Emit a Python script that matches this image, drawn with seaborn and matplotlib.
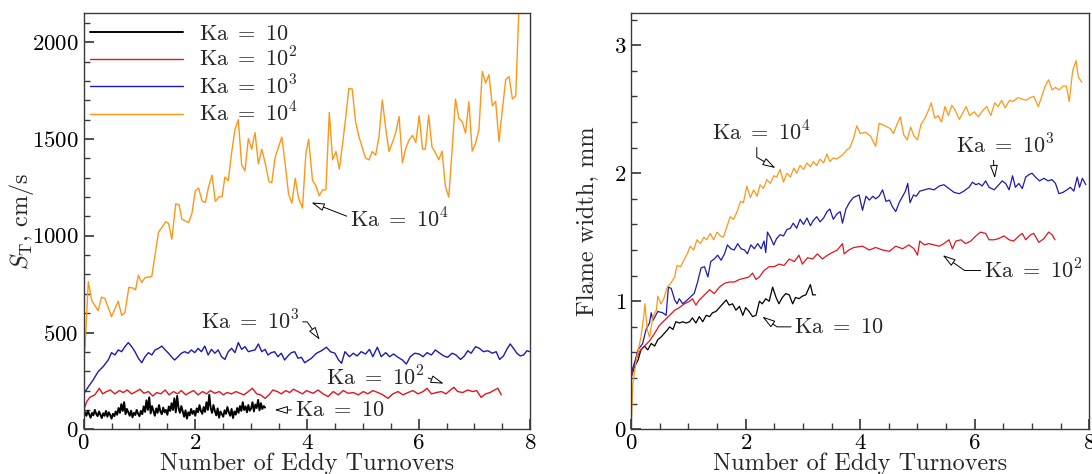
import matplotlib
matplotlib.use("Agg")
import matplotlib.pyplot as plt
from matplotlib.ticker import MultipleLocator
import numpy as np
import pandas as pd
import seaborn as sns

# ---------------- data ----------------
ka_labels = [r"$\mathrm{Ka}\ =\ 10$", r"$\mathrm{Ka}\ =\ 10^{2}$",
             r"$\mathrm{Ka}\ =\ 10^{3}$", r"$\mathrm{Ka}\ =\ 10^{4}$"]
ka_colors = ["#000000", "#e0151d", "#1b1bb0", "#ff9618"]

# Turbulent flame speed S_T (cm/s) versus eddy turnovers
st_ka1_t0, st_ka1_t1 = 0.0, 3.25
st_ka1 = [62, 88, 70, 95, 78, 60, 85, 72, 100, 80, 68, 92, 75, 58, 83, 70, 95, 65, 88, 74,
          55, 80, 68, 92, 75, 110, 85, 130, 95, 140, 78, 105, 88, 70, 96, 62, 85, 74, 100, 80,
          68, 95, 78, 118, 90, 150, 100, 165, 82, 120, 95, 70, 108, 85, 125, 92, 78, 112, 88, 100,
          75, 118, 95, 135, 100, 160, 88, 172, 110, 85, 120, 92, 65, 98, 55, 88, 72, 105, 80, 95,
          70, 108, 88, 125, 95, 80, 115, 90, 140, 100, 178, 110, 85, 125, 95, 72, 108, 60, 92, 78,
          65, 98, 80, 115, 88, 70, 105, 58, 92, 76, 110, 85, 120, 95, 140, 100, 118, 88, 125, 96,
          108, 140, 92, 128, 110, 152, 98, 135, 105, 120, 112]

st_ka2_t = [0.007, 0.055, 0.11, 0.20, 0.28, 0.34, 0.41, 0.48, 0.56, 0.64, 0.71, 0.78, 0.86, 0.94,
            1.01, 1.08, 1.16, 1.24, 1.31, 1.38, 1.46, 1.53, 1.61, 1.68, 1.75, 1.83, 1.90, 1.97,
            2.05, 2.13, 2.20, 2.27, 2.35, 2.43, 2.50, 2.57, 2.65, 2.73, 2.80, 2.87, 2.95, 3.02,
            3.10, 3.17, 3.25, 3.32, 3.39, 3.47, 3.54, 3.62, 3.69, 3.76, 3.84, 3.92, 3.99, 4.11,
            4.20, 4.29, 4.38, 4.47, 4.56, 4.65, 4.74, 4.83, 4.92, 5.01, 5.09, 5.18, 5.27, 5.36,
            5.45, 5.54, 5.63, 5.72, 5.81, 5.90, 5.99, 6.08, 6.15, 6.23, 6.32, 6.41, 6.49, 6.57,
            6.63, 6.70, 6.79, 6.88, 6.97, 7.04, 7.12, 7.20, 7.28, 7.36, 7.42, 7.48]
st_ka2 = [103, 143, 165, 178, 212, 183, 195, 203, 183, 200, 190, 203, 183, 195,
          207, 186, 195, 172, 190, 183, 203, 178, 195, 183, 200, 178, 190, 200,
          178, 195, 183, 200, 186, 195, 178, 190, 183, 195, 186, 178, 195, 212,
          183, 178, 160, 178, 203, 195, 183, 200, 190, 207, 195, 183, 200, 186,
          203, 183, 169, 195, 178, 200, 186, 190, 178, 195, 183, 200, 190, 178,
          160, 183, 195, 178, 190, 200, 183, 195, 212, 183, 190, 195, 183, 203,
          217, 195, 190, 203, 195, 200, 165, 183, 190, 203, 212, 178]

st_ka3_t = [0.007, 0.085, 0.17, 0.26, 0.35, 0.44, 0.50, 0.56, 0.62, 0.68, 0.74, 0.80, 0.86, 0.92,
            0.98, 1.04, 1.10, 1.16, 1.22, 1.28, 1.34, 1.40, 1.46, 1.52, 1.58, 1.63, 1.69, 1.75,
            1.81, 1.87, 1.93, 1.99, 2.05, 2.11, 2.17, 2.23, 2.29, 2.35, 2.41, 2.47, 2.53, 2.59,
            2.65, 2.71, 2.77, 2.83, 2.89, 2.95, 3.01, 3.07, 3.13, 3.19, 3.25, 3.30, 3.36, 3.42,
            3.48, 3.54, 3.60, 3.66, 3.72, 3.78, 3.84, 3.90, 3.96, 4.08, 4.17, 4.26, 4.35, 4.42,
            4.50, 4.56, 4.62, 4.68, 4.76, 4.83, 4.90, 4.97, 5.05, 5.12, 5.18, 5.26, 5.33, 5.41,
            5.48, 5.55, 5.63, 5.71, 5.78, 5.85, 5.93, 6.01, 6.08, 6.15, 6.23, 6.30, 6.38, 6.45,
            6.52, 6.60, 6.67, 6.75, 6.82, 6.88, 6.94, 7.02, 7.09, 7.16, 7.24, 7.32, 7.39, 7.45,
            7.52, 7.58, 7.64, 7.70, 7.76, 7.82, 7.88, 7.94, 7.99]
st_ka3 = [186, 220, 255, 298, 324, 358, 396, 384, 410, 401, 427, 448, 427, 401,
          367, 344, 375, 396, 384, 410, 418, 430, 410, 393, 372, 358, 375, 393,
          401, 393, 410, 396, 418, 401, 430, 384, 413, 393, 410, 375, 361, 401,
          418, 396, 448, 413, 427, 401, 406, 410, 441, 401, 413, 384, 396, 401,
          375, 393, 358, 379, 396, 401, 367, 372, 344, 367, 393, 406, 424, 401,
          393, 361, 341, 401, 375, 393, 379, 401, 389, 413, 375, 424, 375, 396,
          375, 389, 372, 358, 337, 375, 393, 389, 375, 396, 384, 410, 393, 379,
          372, 393, 384, 361, 379, 406, 393, 427, 418, 401, 406, 393, 401, 361,
          379, 413, 441, 418, 393, 379, 384, 406, 401]

st_ka4_t = [0.00, 0.025, 0.084, 0.145, 0.26, 0.32, 0.38, 0.50, 0.62, 0.68, 0.74, 0.81, 0.89, 0.93,
            0.98, 1.04, 1.10, 1.22, 1.34, 1.47, 1.52, 1.58, 1.65, 1.71, 1.76, 1.88, 1.94, 2.00,
            2.06, 2.12, 2.18, 2.24, 2.30, 2.36, 2.42, 2.48, 2.53, 2.59, 2.65, 2.71, 2.77, 2.83,
            2.89, 2.95, 3.01, 3.07, 3.13, 3.19, 3.25, 3.32, 3.37, 3.43, 3.55, 3.61, 3.67, 3.73,
            3.79, 3.85, 3.92, 3.98, 4.03, 4.10, 4.16, 4.22, 4.28, 4.34, 4.40, 4.46, 4.52, 4.58,
            4.64, 4.70, 4.75, 4.81, 4.87, 4.93, 4.99, 5.05, 5.11, 5.17, 5.23, 5.29, 5.35, 5.41,
            5.47, 5.53, 5.59, 5.65, 5.71, 5.77, 5.83, 5.89, 5.95, 6.01, 6.07, 6.12, 6.18, 6.24,
            6.30, 6.36, 6.42, 6.48, 6.54, 6.60, 6.66, 6.72, 6.78, 6.84, 6.90, 6.96, 7.02, 7.08,
            7.14, 7.20, 7.26, 7.32, 7.38, 7.44, 7.50, 7.56, 7.62, 7.68, 7.74, 7.80]
st_ka4 = [360, 427, 763, 665, 613, 683, 676, 582, 662, 589, 603, 734, 729, 720,
          796, 758, 784, 789, 1017, 1072, 1064, 982, 1165, 1160, 1085, 1068, 1116, 1232,
          1246, 1180, 1172, 1255, 1313, 1177, 1200, 1203, 1303, 1284, 1427, 1548, 1599, 1366,
          1335, 1502, 1447, 1533, 1371, 1447, 1378, 1279, 1274, 1405, 1510, 1371, 1216, 1168,
          1297, 1194, 1143, 1423, 1499, 1286, 1258, 1206, 1237, 1237, 1637, 1392, 1435, 1344,
          1478, 1625, 1761, 1758, 1590, 1512, 1457, 1401, 1392, 1435, 1416, 1512, 1701, 1556,
          1435, 1481, 1533, 1616, 1378, 1452, 1495, 1519, 1481, 1620, 1447, 1447, 1623, 1457,
          1430, 1392, 1437, 1254, 1199, 1444, 1706, 1607, 1590, 1530, 1692, 1437, 1478, 1547,
          1849, 1789, 1832, 1672, 1694, 1487, 1651, 1806, 1823, 1706, 1723, 2200]

# Flame width (mm) versus eddy turnovers
fw_ka1_t = [0.0, 0.06, 0.12, 0.17, 0.23, 0.29, 0.35, 0.41, 0.465, 0.52, 0.58, 0.64, 0.67, 0.73,
            0.78, 0.84, 0.90, 0.96, 1.02, 1.07, 1.13, 1.19, 1.25, 1.31, 1.37, 1.42, 1.48, 1.54,
            1.60, 1.66, 1.71, 1.77, 1.83, 1.89, 1.95, 2.00, 2.06, 2.12, 2.18, 2.24, 2.29, 2.35,
            2.41, 2.47, 2.53, 2.58, 2.64, 2.70, 2.76, 2.82, 2.87, 2.93, 2.99, 3.05, 3.13, 3.17, 3.22]
fw_ka1 = [0.41, 0.49, 0.54, 0.62, 0.65, 0.62, 0.67, 0.65, 0.70, 0.72, 0.75, 0.78, 0.80, 0.78,
          0.84, 0.83, 0.84, 0.83, 0.84, 0.87, 0.83, 0.88, 0.84, 0.89, 0.88, 0.91, 0.92, 0.95,
          0.98, 1.01, 0.97, 0.98, 0.93, 0.96, 0.89, 0.95, 0.92, 0.88, 0.89, 1.00, 0.98, 1.02,
          1.00, 1.11, 1.03, 0.98, 1.03, 1.06, 1.05, 0.98, 1.03, 1.02, 1.04, 1.05, 1.13, 1.05, 1.05]

fw_ka2_t = [0.0, 0.06, 0.15, 0.23, 0.32, 0.41, 0.49, 0.58, 0.67, 0.76, 0.84, 0.93, 1.02, 1.07,
            1.13, 1.19, 1.28, 1.37, 1.45, 1.54, 1.63, 1.71, 1.80, 1.89, 1.98, 2.06, 2.12, 2.18,
            2.24, 2.32, 2.41, 2.50, 2.58, 2.67, 2.76, 2.85, 2.93, 2.99, 3.08, 3.17, 3.25, 3.34,
            3.43, 3.51, 3.60, 3.69, 3.72, 3.80, 3.89, 4.04, 4.16, 4.27, 4.39, 4.51, 4.62, 4.74,
            4.85, 4.94, 5.00, 5.04, 5.12, 5.20, 5.29, 5.38, 5.46, 5.55, 5.61, 5.67, 5.76, 5.84,
            5.93, 6.02, 6.10, 6.19, 6.25, 6.34, 6.42, 6.51, 6.60, 6.68, 6.77, 6.83, 6.89, 6.98,
            7.03, 7.12, 7.21, 7.29, 7.35, 7.40]
fw_ka2 = [0.40, 0.52, 0.61, 0.65, 0.69, 0.75, 0.81, 0.85, 0.89, 0.93, 0.95, 0.98, 1.00, 1.02,
          0.97, 1.01, 1.05, 1.09, 1.06, 1.11, 1.14, 1.15, 1.15, 1.17, 1.18, 1.19, 1.22, 1.17,
          1.19, 1.24, 1.27, 1.27, 1.29, 1.28, 1.33, 1.31, 1.36, 1.29, 1.34, 1.33, 1.37, 1.33,
          1.36, 1.38, 1.40, 1.45, 1.37, 1.40, 1.42, 1.43, 1.40, 1.42, 1.40, 1.39, 1.43, 1.41,
          1.44, 1.41, 1.36, 1.47, 1.44, 1.45, 1.44, 1.43, 1.45, 1.48, 1.41, 1.47, 1.48, 1.45,
          1.47, 1.51, 1.54, 1.53, 1.48, 1.48, 1.49, 1.51, 1.48, 1.47, 1.51, 1.53, 1.48, 1.52,
          1.53, 1.46, 1.49, 1.54, 1.52, 1.48]

fw_ka3_t = [0.0, 0.06, 0.12, 0.20, 0.26, 0.32, 0.35, 0.38, 0.465, 0.55, 0.61, 0.65, 0.70, 0.76,
            0.80, 0.84, 0.90, 0.98, 1.05, 1.10, 1.16, 1.22, 1.28, 1.34, 1.39, 1.45, 1.51, 1.57,
            1.63, 1.68, 1.74, 1.80, 1.86, 1.92, 1.98, 2.03, 2.09, 2.15, 2.21, 2.27, 2.32, 2.35,
            2.38, 2.43, 2.49, 2.54, 2.60, 2.66, 2.72, 2.78, 2.83, 2.89, 2.95, 3.01, 3.07, 3.13,
            3.18, 3.24, 3.30, 3.36, 3.42, 3.47, 3.53, 3.59, 3.65, 3.69, 3.75, 3.81, 3.88, 3.98,
            4.04, 4.10, 4.16, 4.22, 4.27, 4.33, 4.39, 4.45, 4.51, 4.56, 4.62, 4.68, 4.74, 4.79,
            4.83, 4.87, 4.93, 4.98, 5.04, 5.12, 5.20, 5.29, 5.38, 5.46, 5.55, 5.64, 5.73, 5.81,
            5.90, 5.96, 6.02, 6.07, 6.13, 6.19, 6.25, 6.34, 6.42, 6.48, 6.54, 6.60, 6.66, 6.71,
            6.77, 6.83, 6.89, 6.95, 7.00, 7.06, 7.13, 7.21, 7.28, 7.35, 7.41, 7.47, 7.54, 7.61,
            7.67, 7.73, 7.79, 7.83, 7.88, 7.94]
fw_ka3 = [0.44, 0.52, 0.62, 0.67, 0.78, 0.83, 0.91, 0.85, 0.92, 0.91, 0.89, 1.11, 1.10, 1.01,
          0.98, 1.02, 0.98, 1.01, 1.04, 1.06, 1.15, 1.26, 1.27, 1.19, 1.31, 1.33, 1.36, 1.32,
          1.37, 1.44, 1.41, 1.40, 1.45, 1.41, 1.40, 1.37, 1.44, 1.41, 1.45, 1.41, 1.47, 1.38,
          1.54, 1.50, 1.44, 1.49, 1.52, 1.51, 1.56, 1.57, 1.61, 1.57, 1.64, 1.60, 1.65, 1.59,
          1.63, 1.66, 1.62, 1.65, 1.70, 1.72, 1.64, 1.68, 1.70, 1.61, 1.72, 1.77, 1.81, 1.83,
          1.71, 1.82, 1.79, 1.82, 1.80, 1.82, 1.87, 1.78, 1.79, 1.74, 1.70, 1.77, 1.82, 1.86,
          1.92, 1.77, 1.83, 1.82, 1.86, 1.87, 1.88, 1.87, 1.90, 1.91, 1.88, 1.85, 1.84, 1.86,
          1.89, 1.93, 1.91, 1.92, 1.90, 1.94, 1.89, 1.87, 1.91, 1.94, 1.92, 1.87, 1.98, 1.89,
          1.92, 1.88, 1.97, 1.99, 2.00, 1.97, 1.94, 1.96, 1.94, 1.95, 1.92, 1.84, 1.85, 1.87,
          1.89, 1.86, 1.97, 1.89, 1.96, 1.91]

fw_ka4_t = [0.0, 0.03, 0.088, 0.17, 0.22, 0.24, 0.28, 0.32, 0.38, 0.44, 0.465, 0.52, 0.57, 0.63,
            0.69, 0.76, 0.80, 0.86, 0.92, 0.98, 1.03, 1.09, 1.15, 1.21, 1.27, 1.32, 1.38, 1.44,
            1.50, 1.56, 1.61, 1.67, 1.73, 1.79, 1.85, 1.91, 1.96, 2.02, 2.08, 2.14, 2.20, 2.25,
            2.31, 2.37, 2.43, 2.49, 2.54, 2.60, 2.66, 2.72, 2.78, 2.84, 2.89, 2.95, 3.01, 3.07,
            3.13, 3.18, 3.24, 3.30, 3.36, 3.42, 3.47, 3.53, 3.59, 3.65, 3.71, 3.76, 3.82, 3.88,
            3.94, 4.00, 4.09, 4.18, 4.27, 4.33, 4.43, 4.52, 4.58, 4.64, 4.70, 4.76, 4.82, 4.88,
            4.94, 5.00, 5.06, 5.13, 5.19, 5.24, 5.30, 5.36, 5.42, 5.48, 5.54, 5.60, 5.66, 5.73,
            5.79, 5.85, 5.91, 5.99, 6.06, 6.14, 6.21, 6.28, 6.35, 6.41, 6.47, 6.53, 6.61, 6.67,
            6.75, 6.82, 6.90, 6.97, 7.03, 7.11, 7.17, 7.23, 7.29, 7.35, 7.41, 7.47, 7.54, 7.60,
            7.65, 7.71, 7.77, 7.81, 7.87]
fw_ka4 = [0.02, 0.36, 0.54, 0.72, 0.88, 0.98, 0.78, 0.72, 0.88, 0.93, 1.04, 0.98, 1.02, 1.11,
          1.14, 1.19, 1.28, 1.27, 1.32, 1.37, 1.43, 1.40, 1.48, 1.45, 1.50, 1.48, 1.53, 1.48,
          1.54, 1.51, 1.50, 1.58, 1.66, 1.64, 1.70, 1.78, 1.77, 1.90, 1.81, 1.87, 1.82, 1.91,
          1.88, 1.95, 1.92, 1.98, 1.97, 2.03, 1.93, 2.00, 1.97, 2.04, 2.00, 2.06, 2.03, 2.08,
          2.05, 2.09, 2.06, 2.11, 2.08, 2.15, 2.09, 2.12, 2.11, 2.13, 2.15, 2.18, 2.20, 2.27,
          2.37, 2.31, 2.32, 2.29, 2.21, 2.39, 2.37, 2.35, 2.31, 2.38, 2.44, 2.30, 2.26, 2.36,
          2.29, 2.26, 2.38, 2.43, 2.49, 2.55, 2.43, 2.45, 2.40, 2.52, 2.45, 2.53, 2.49, 2.42,
          2.47, 2.52, 2.45, 2.48, 2.44, 2.49, 2.52, 2.45, 2.55, 2.52, 2.57, 2.51, 2.57, 2.56,
          2.59, 2.58, 2.57, 2.59, 2.60, 2.52, 2.60, 2.68, 2.73, 2.65, 2.67, 2.65, 2.68, 2.68,
          2.56, 2.80, 2.88, 2.75, 2.71]

st_ticks = [0, 500, 1000, 1500, 2000]
fw_ticks = [0, 1, 2, 3]
turnover_ticks = [0, 2, 4, 6, 8]

# ---------------- tidy tables ----------------
st_ka1_t = np.linspace(st_ka1_t0, st_ka1_t1, len(st_ka1))
speed = pd.concat([
    pd.DataFrame({"turnovers": t, "value": v, "case": lab})
    for t, v, lab in zip([st_ka1_t, st_ka2_t, st_ka3_t, st_ka4_t],
                         [st_ka1, st_ka2, st_ka3, st_ka4], ka_labels)
], ignore_index=True)
width = pd.concat([
    pd.DataFrame({"turnovers": t, "value": v, "case": lab})
    for t, v, lab in zip([fw_ka1_t, fw_ka2_t, fw_ka3_t, fw_ka4_t],
                         [fw_ka1, fw_ka2, fw_ka3, fw_ka4], ka_labels)
], ignore_index=True)

# ---------------- style ----------------
TXT = 16
sns.set_theme(style="ticks")
plt.rcParams.update({
    "font.family": ["cmr10", "DejaVu Serif"],
    "mathtext.fontset": "cm",
    "axes.formatter.use_mathtext": True,
    "axes.unicode_minus": False,
    "axes.edgecolor": "#3a3a3a",
    "axes.linewidth": 1.0,
    "xtick.color": "#3a3a3a",
    "ytick.color": "#3a3a3a",
    "xtick.labelcolor": "black",
    "ytick.labelcolor": "black",
    "xtick.direction": "in",
    "ytick.direction": "in",
    "xtick.major.size": 7,
    "ytick.major.size": 7,
    "xtick.minor.size": 4,
    "ytick.minor.size": 4,
    "xtick.labelsize": 16.5,
    "ytick.labelsize": 16.5,
})

fig = plt.figure(figsize=(10.92, 4.74), dpi=100)
ax1 = fig.add_axes([0.0766, 0.0943, 0.409, 0.878])
ax2 = fig.add_axes([0.578, 0.0943, 0.4195, 0.878])

palette = dict(zip(ka_labels, ka_colors))
sns.lineplot(data=speed, x="turnovers", y="value", hue="case", hue_order=ka_labels,
             palette=palette, estimator=None, sort=False, legend=False, lw=1.0, ax=ax1)
sns.lineplot(data=width, x="turnovers", y="value", hue="case", hue_order=ka_labels,
             palette=palette, estimator=None, sort=False, legend=False, lw=0.9, ax=ax2)
ax1.get_lines()[0].set_linewidth(1.4)

for ax in (ax1, ax2):
    ax.set_xlim(0, 8)
    ax.set_xticks(turnover_ticks)
    ax.xaxis.set_minor_locator(MultipleLocator(0.5))
    ax.tick_params(which="both", top=False, right=False)
    ax.tick_params(axis="x", pad=3)
    ax.set_xlabel("Number of Eddy Turnovers", fontsize=17.5, labelpad=0)

ax1.set_ylim(0, 2150)
ax1.set_yticks(st_ticks)
ax1.yaxis.set_minor_locator(MultipleLocator(100))
ax1.set_ylabel(r"$S_{\mathrm{T}}$, cm/s", fontsize=17.5, labelpad=-3)

ax2.set_ylim(0, 3.25)
ax2.set_yticks(fw_ticks)
ax2.yaxis.set_minor_locator(MultipleLocator(0.2))
ax2.set_ylabel("Flame width, mm", fontsize=17.5, labelpad=11)

# legend
handles = ax1.get_lines()[:4]
ax1.legend(handles, ka_labels, loc="upper left", bbox_to_anchor=(0.0, 0.99),
           frameon=False, fontsize=TXT, handlelength=4.15, handletextpad=0.75,
           labelspacing=0.15, borderaxespad=0.2, borderpad=0.1)

# callouts
arrow = dict(arrowstyle="-|>,head_length=0.5,head_width=0.15", fc="white",
             ec="black", lw=0.7, shrinkA=0, shrinkB=0)

ax1.annotate(ka_labels[3], xy=(4.08, 1172), xytext=(4.77, 1082), fontsize=TXT,
             ha="left", va="center", arrowprops=dict(arrow, relpos=(0, 0.6)))
ax1.annotate(ka_labels[2], xy=(4.23, 462), xytext=(2.98, 555), fontsize=TXT,
             ha="center", va="center",
             arrowprops=dict(arrow, relpos=(1, 0.5),
                             connectionstyle="angle,angleA=0,angleB=125,rad=0"))
ax1.annotate(ka_labels[1], xy=(6.45, 236), xytext=(5.23, 270), fontsize=TXT,
             ha="center", va="center",
             arrowprops=dict(arrow, relpos=(1, 0.5),
                             connectionstyle="angle,angleA=0,angleB=160,rad=0"))
ax1.annotate(ka_labels[0], xy=(3.42, 100), xytext=(3.78, 100), fontsize=TXT,
             ha="left", va="center", arrowprops=dict(arrow, relpos=(0, 0.5)))

ax2.annotate(ka_labels[3], xy=(2.52, 2.04), xytext=(2.28, 2.32), fontsize=TXT,
             ha="center", va="center",
             arrowprops=dict(arrow, relpos=(0.45, 0),
                             connectionstyle="angle,angleA=-90,angleB=-30,rad=0"))
ax2.annotate(ka_labels[2], xy=(6.35, 1.96), xytext=(6.53, 2.22), fontsize=TXT,
             ha="center", va="center",
             arrowprops=dict(arrow, relpos=(0.38, 0)))
ax2.annotate(ka_labels[1], xy=(5.44, 1.36), xytext=(6.16, 1.24), fontsize=TXT,
             ha="left", va="center",
             arrowprops=dict(arrow, relpos=(0, 0.5),
                             connectionstyle="angle,angleA=180,angleB=145,rad=0"))
ax2.annotate(ka_labels[0], xy=(2.29, 0.88), xytext=(2.85, 0.80), fontsize=TXT,
             ha="left", va="center",
             arrowprops=dict(arrow, relpos=(0, 0.5),
                             connectionstyle="angle,angleA=180,angleB=145,rad=0"))

fig.savefig("out.png", dpi=100)
